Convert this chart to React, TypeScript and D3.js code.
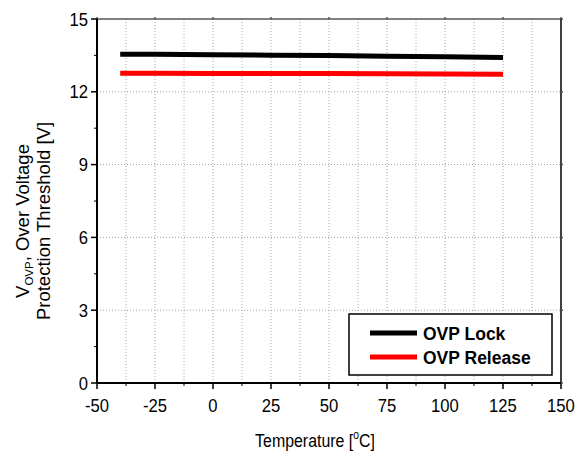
import React from "react";
import * as d3 from "d3";

const temps = [-40, -25, 0, 25, 50, 75, 100, 125];
const lockValues = [13.55, 13.55, 13.53, 13.51, 13.5, 13.47, 13.44, 13.41];
const releaseValues = [12.76, 12.76, 12.75, 12.75, 12.75, 12.74, 12.73, 12.72];
const xTicks = [-50, -25, 0, 25, 50, 75, 100, 125, 150];
const xMinor = [-37.5, -12.5, 12.5, 37.5, 62.5, 87.5, 112.5, 137.5];
const yTicks = [0, 3, 6, 9, 12, 15];
const yMinor = [1.5, 4.5, 7.5, 10.5, 13.5];
const seriesNames = ["OVP Lock", "OVP Release"];
const seriesColors = ["#000000", "#ff0000"];

const W = 584, H = 457;
const L = 97, R = 561, T = 19, B = 383;
const FONT = "'Liberation Sans', Arial, sans-serif";

export default function App() {
  const x = d3.scaleLinear().domain([-50, 150]).range([L, R]);
  const y = d3.scaleLinear().domain([0, 15]).range([B, T]);
  const line = d3.line<[number, number]>().x(d => x(d[0])).y(d => y(d[1]));
  const series = [lockValues, releaseValues].map(vals => temps.map((t, i) => [t, vals[i]] as [number, number]));

  const vGrid = [...xTicks.slice(1, -1), ...xMinor];
  const hGrid = yTicks.slice(1, -1);

  return (
    <svg width={W} height={H} style={{ position: "absolute", left: 0, top: 0, background: "#fff" }}>
      <rect x={0} y={0} width={W} height={H} fill="#fff" />
      {/* grid */}
      {vGrid.map(v => (
        <line key={"vg" + v} x1={x(v)} x2={x(v)} y1={T} y2={B} stroke="#a8a8a8" strokeWidth={1} strokeDasharray="1,2" />
      ))}
      {hGrid.map(v => (
        <line key={"hg" + v} x1={L} x2={R} y1={y(v)} y2={y(v)} stroke="#a0a0a0" strokeWidth={1} strokeDasharray="1,2" />
      ))}
      {/* series */}
      {series.map((s, i) => (
        <path key={"s" + i} d={line(s) || ""} fill="none" stroke={seriesColors[i]} strokeWidth={5} />
      ))}
      {/* frame */}
      <line x1={L} x2={R} y1={T} y2={T} stroke="#555" strokeWidth={1.5} />
      <line x1={R} x2={R} y1={T} y2={B} stroke="#000" strokeWidth={1.5} />
      <line x1={L} x2={L} y1={T} y2={B} stroke="#000" strokeWidth={2} />
      <line x1={L} x2={R} y1={B} y2={B} stroke="#000" strokeWidth={2} />
      {/* x ticks */}
      {xTicks.map(v => (
        <g key={"xt" + v}>
          <line x1={x(v)} x2={x(v)} y1={B} y2={B + 6} stroke="#000" strokeWidth={1.5} />
          <line x1={x(v)} x2={x(v)} y1={T} y2={T - 2} stroke="#555" strokeWidth={1.5} />
          <text transform={`translate(${x(v)},${B + 29}) scale(0.9,1)`} textAnchor="middle" fontFamily={FONT} fontSize={18.5} fill="#000">{v}</text>
        </g>
      ))}
      {xMinor.map(v => (
        <line key={"xm" + v} x1={x(v)} x2={x(v)} y1={B} y2={B + 3} stroke="#000" strokeWidth={1} />
      ))}
      {/* y ticks */}
      {yTicks.map(v => (
        <g key={"yt" + v}>
          <line x1={L} x2={L - 6} y1={y(v)} y2={y(v)} stroke="#000" strokeWidth={1.5} />
          <line x1={R} x2={R + 2} y1={y(v)} y2={y(v)} stroke="#555" strokeWidth={1.5} />
          <text transform={`translate(${L - 9},${y(v) + 6.5}) scale(0.9,1)`} textAnchor="end" fontFamily={FONT} fontSize={18.5} fill="#000">{v}</text>
        </g>
      ))}
      {yMinor.map(v => (
        <line key={"ym" + v} x1={L} x2={L - 3} y1={y(v)} y2={y(v)} stroke="#000" strokeWidth={1} />
      ))}
      {/* x title */}
      <text transform={`translate(${(L + R) / 2 - 14},${447}) scale(0.86,1)`} textAnchor="middle" fontFamily={FONT} fontSize={18.5} fill="#000">
        Temperature [<tspan dy={-8} fontSize={12}>o</tspan><tspan dy={8}>C]</tspan>
      </text>
      {/* y title */}
      <g transform="translate(29,221) rotate(-90)">
        <text x={0} y={0} textAnchor="middle" fontFamily={FONT} fontSize={18.5} fill="#000">
          V<tspan dy={4} fontSize={11.5}>OVP</tspan><tspan dy={-4}>, Over Voltage</tspan>
        </text>
        <text x={0} y={21} textAnchor="middle" fontFamily={FONT} fontSize={18.5} fill="#000">
          Protection Threshold [V]
        </text>
      </g>
      {/* legend */}
      <rect x={349} y={314} width={203} height={61} fill="#fff" stroke="#000" strokeWidth={1.5} />
      {seriesNames.map((n, i) => (
        <g key={"lg" + i}>
          <line x1={370} x2={417} y1={333 + i * 24} y2={333 + i * 24} stroke={seriesColors[i]} strokeWidth={5} />
          <text x={423} y={340 + i * 24} fontFamily={FONT} fontWeight="bold" fontSize={17.5} fill="#000">{n}</text>
        </g>
      ))}
    </svg>
  );
}
